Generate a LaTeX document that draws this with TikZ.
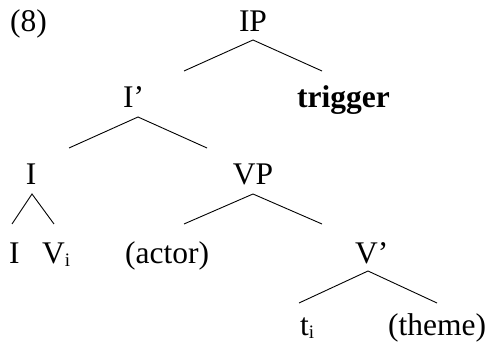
\documentclass[tikz,border=0pt]{standalone}
\usepackage{fontspec}
\setmainfont{Liberation Serif}
\newcommand{\subidx}[1]{\raisebox{-3pt}{\fontsize{19}{20}\selectfont #1}}
\begin{document}
\begin{tikzpicture}[x=1pt,y=1pt,
  lbl/.style={inner sep=0pt,font=\fontsize{31.5}{36}\selectfont},
  edge/.style={line width=0.9pt}]
\useasboundingbox (0,0) rectangle (494,344);
% labels (y = 344 - baseline)
\node[lbl,anchor=base west] (ex) at (10,312) {(8)};
\node[lbl,anchor=base] (IP) at (253,312) {IP};
\node[lbl,anchor=base west] (Ibar) at (123,236) {I’};
\node[lbl,anchor=base west] (trig) at (297,236) {\bfseries trigger};
\node[lbl,anchor=base] (I) at (31,159) {I};
\node[lbl,anchor=base] (VP) at (253,159) {VP};
\node[lbl,anchor=base west] (I2) at (9,80) {I};
\node[lbl,anchor=base west] (V) at (42,80) {V\subidx{i}};
\node[lbl,anchor=base west] (actor) at (125,80) {(actor)};
\node[lbl,anchor=base west] (Vbar) at (355,80) {V’};
\node[lbl,anchor=base west] (t) at (300,8) {t\subidx{i}};
\node[lbl,anchor=base] (theme) at (437,8) {(theme)};
% branch points
\coordinate (aIP) at (253,304);
\coordinate (lIP) at (184,273);
\coordinate (rIP) at (322,273);
\coordinate (aIbar) at (138,227);
\coordinate (lIbar) at (69,196);
\coordinate (rIbar) at (207,196);
\coordinate (aI) at (32,150);
\coordinate (lI) at (12,120);
\coordinate (rI) at (54,120);
\coordinate (aVP) at (253,150);
\coordinate (lVP) at (184,120);
\coordinate (rVP) at (322,120);
\coordinate (aVbar) at (368,73);
\coordinate (lVbar) at (299,41);
\coordinate (rVbar) at (437,41);
\draw[edge] (lIP) -- (aIP) -- (rIP);
\draw[edge] (lIbar) -- (aIbar) -- (rIbar);
\draw[edge] (lI) -- (aI) -- (rI);
\draw[edge] (lVP) -- (aVP) -- (rVP);
\draw[edge] (lVbar) -- (aVbar) -- (rVbar);
\end{tikzpicture}
\end{document}
